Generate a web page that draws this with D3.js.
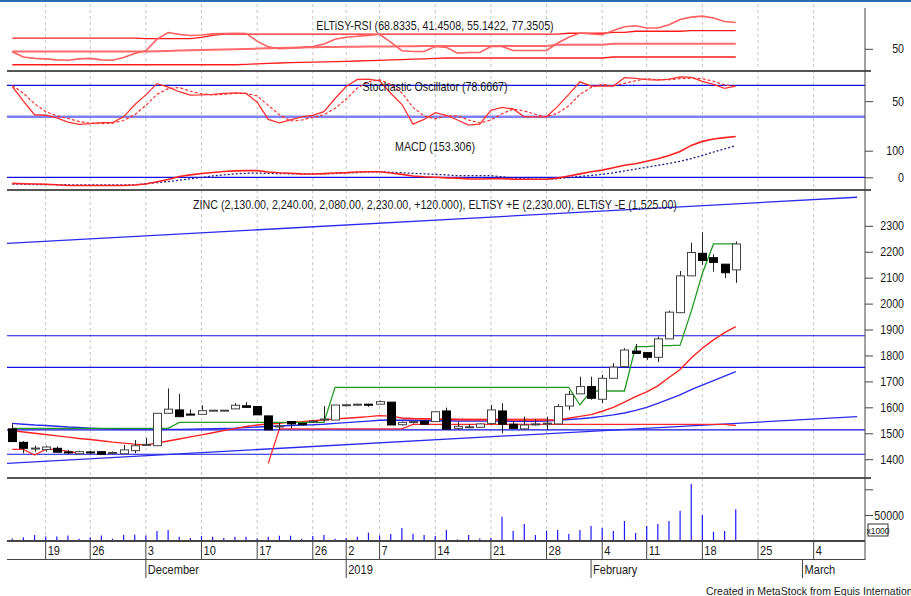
<!DOCTYPE html>
<html>
<head>
<meta charset="utf-8">
<script src="https://cdn.jsdelivr.net/npm/d3@7"></script>
<style>
  body { margin: 0; background: #fff; }
  text { font-family: "Liberation Sans", Arial, sans-serif; fill: #1a1a1a; }
</style>
</head>
<body>
<script>
// ---- data (one value per trading day, index 0 = Nov 14 2018) ----
let opens  = [1517,1465,1442,1437,1442,1428,1421,1428,1429,1426,1421,1433,1455,1452,1577,1590,1574,1573,1587,1587,
              1594,1606,1603,1567,1527,1545,1538,1547,1554,1551,1610,1612,1612,1612,1620,1533,1545,1547,1545,1586,
              1519,1525,1523,1538,1586,1535,1517,1536,1538,1536,1605,1652,1680,1631,1712,1757,1817,1811,1793,1864,
              1965,2107,2194,2177,2152,2130];
let highs  = [1539,1470,1452,1452,1449,1436,1433,1432,1431,1430,1455,1474,1482,1577,1673,1652,1592,1608,1590,1590,
              1616,1620,1603,1568,1540,1547,1540,1549,1605,1609,1614,1614,1614,1626,1620,1545,1547,1549,1586,1599,
              1545,1535,1538,1609,1616,1547,1564,1554,1564,1612,1663,1718,1718,1725,1770,1828,1844,1813,1873,1973,
              2126,2235,2275,2190,2152,2240];
let lows   = [1466,1423,1429,1429,1425,1420,1420,1420,1419,1420,1420,1423,1452,1452,1575,1564,1570,1573,1585,1585,
              1594,1598,1571,1513,1513,1519,1530,1540,1545,1551,1606,1606,1602,1612,1532,1530,1538,1535,1545,1516,
              1514,1520,1523,1533,1500,1517,1513,1530,1513,1535,1590,1652,1630,1616,1712,1757,1806,1783,1775,1864,
              1965,2107,2149,2123,2098,2080];
let closes = [1468,1442,1443,1447,1427,1425,1429,1427,1419,1426,1436,1452,1457,1577,1593,1564,1572,1587,1589,1589,
              1608,1600,1571,1513,1528,1536,1533,1547,1555,1609,1610,1612,1610,1622,1532,1542,1545,1535,1583,1516,
              1527,1525,1536,1590,1535,1519,1532,1536,1539,1603,1650,1680,1635,1712,1755,1821,1808,1793,1864,1967,
              2107,2197,2166,2159,2119,2230];
let volumes = [4500,6500,11000,8000,8000,10000,4000,6500,10000,4000,11000,11700,10300,18800,20800,7800,5200,9000,7800,5200,
               7800,7800,4500,7800,9700,9700,3900,9000,11000,3900,5200,7800,15600,10300,13000,24600,13600,11000,9000,20800,
               2500,11000,4500,5800,46700,18800,32400,11000,19500,20800,13000,20800,28500,24600,18800,38300,14900,28500,32400,38300,
               58400,110200,50000,17500,18800,61000];

// price overlays
let plusE  = [1519,1519,1519,1519,1519,1519,1519,1519,1519,1519,1519,1519,1519,1519,1519,1542,1542,1542,1542,1542,
              1542,1542,1542,1542,1542,1542,1542,1542,1542,1677,1677,1677,1677,1677,1677,1677,1677,1677,1677,1677,
              1677,1677,1677,1677,1677,1677,1677,1677,1677,1677,1677,1609,1663,1663,1663,1663,1834,1834,1838,1838,
              1840,1970,2116,2230,2230,2230];
let minusE = [1438,1438,1416,1438,1438,1430,1423,null,null,null,null,null,null,null,null,null,null,null,null,null,
              null,null,null,1384,1517,1517,1517,1517,1517,1517,1517,1517,1517,1517,1517,1517,1534,1534,1534,1534,
              1534,1534,1534,1534,1534,1534,1534,1534,1534,1534,1534,1534,1534,1534,1534,1534,1534,1534,1534,1534,
              1534,1534,1534,1534,1534,1530];
let stopBand = [null,null,null,null,null,null,null,null,null,null,null,null,null,null,null,null,null,null,null,null,
              null,null,null,null,null,null,null,null,null,null,null,null,null,null,null,1552,1552,1552,1552,1552,
              1552,1552,1552,1552,1552,1552,1552,1552,1552,null,null,null,null,null,null,null,null,null,null,null,
              null,null,null,null,null,null];
let maFast = [1510,1505,1500,1495,1490,1485,1480,1476,1471,1466,1462,1458,1455,1462,1470,1478,1486,1494,1502,1510,
              1518,1526,1532,1536,1538,1543,1545,1548,1551,1555,1558,1561,1564,1568,1566,1559,1557,1556,1555,1554,
              1553,1552,1552,1552,1552,1551,1551,1551,1551,1551,1558,1565,1572,1585,1600,1620,1641,1660,1683,1715,
              1746,1790,1828,1860,1888,1911];
let maSlow = [1538,1535,1532,1530,1527,1524,1522,1520,1518,1516,1515,1515,1515,1515,1515,1515,1516,1517,1518,1519,
              1520,1522,1524,1526,1528,1530,1532,1533,1535,1538,1541,1544,1547,1550,1551,1550,1549,1548,1548,1548,
              1547,1547,1547,1547,1547,1546,1546,1546,1547,1550,1553,1556,1560,1565,1571,1578,1588,1600,1615,1632,
              1648,1668,1686,1703,1720,1738];
let hLevels = [1876, 1754, 1513, 1419];
let trendLines = [[[-0.5, 2232], [75.9, 2410]], [[-0.5, 1384], [75.9, 1564]]];

// ELTiSY-RSI
let rsi    = [47,41.5,40,39.5,38.5,38,39.5,40,38.5,38,41,45,48,60,67,65,63.8,64.4,65.5,66,
              66.2,66,58,52,50,50.5,51.5,52.4,55,60,62,63,64,65.1,57,48,47.2,47.2,52.4,51.5,
              45.5,46.2,46.2,52.4,52.4,48.2,48.2,48.2,48.2,56,62,66.5,65.5,64.7,69,73,74,71.6,71.6,75,
              80.5,83,84,82,78.5,77.35];
let rsiHi  = [61.2,61.2,61.2,61.2,61.2,61.2,61.2,61.2,61.2,61.2,61.2,61.2,60.5,60.5,60.5,60.5,60.5,62,64,65.2,
              65.2,65.2,65.2,65.2,65.2,65.2,65.2,65.2,65.2,65.2,65.2,65.2,65.2,65.2,65.2,65.2,65.2,65.2,65.2,65.2,
              65.2,65.2,65.2,65.2,65.2,65.2,65.2,65.2,65.2,65.2,66.2,66.2,66.2,66.2,67.2,67.2,68.3,68.3,68.3,68.3,
              68.3,68.83,68.83,68.83,68.83,68.83];
let rsiMid = [47.2,47.2,47.2,47.2,47.2,47.2,47.2,47.2,47.2,47.2,47.2,47.2,47.2,47.5,47.8,48.1,48.4,48.7,49,49.3,
              49.6,49.9,50.2,50.5,50.8,51.1,51.4,51.6,51.8,52,52.1,52.2,52.3,52.4,52.5,52.6,52.7,52.8,53,53,
              53,53,53,53,53,53,53,53,53,54.3,54.3,54.3,54.3,54.3,55.14,55.14,55.14,55.14,55.14,55.14,
              55.14,55.14,55.14,55.14,55.14,55.14];
let rsiLo  = [33.4,33.4,33.4,33.4,33.4,33.4,33.4,33.4,33.4,33.4,33.4,33.4,33.4,33.4,33.4,33.4,33.4,33.4,33.4,33.4,
              33.4,33.8,34.3,34.8,35.2,35.5,35.8,36.1,36.4,36.7,37,37.3,37.6,38,38.4,38.8,39.2,39.6,40,40.4,
              40.4,40.4,40.4,40.4,40.4,40.4,40.4,40.4,40.4,40.4,40.4,40.4,40.4,40.4,41.45,41.45,41.45,41.45,41.45,41.45,
              41.45,41.45,41.45,41.45,41.45,41.45];

// Stochastic oscillator
let stochK = [78,50,24,23,18,10,5.5,7,9,9,20,43,62,83.5,77,68,61.5,62,63,65,
              66,64.7,48,15,8.5,14,20,23,30,55,78,91.4,92,89,65,44,6,15,28,23,
              14,4,6,32.5,38,35,20,20,20,40,63,87,79,78.7,78.7,95,93.4,91,90.2,92,
              96.5,95.3,88,82,74.3,78.67];
let stochD = [80,65,45,30,22,17,11,8,7,8,13,24,42,63,74,76,69,64,62,63,
              65,65,60,42,24,12,14,19,24,36,54,75,87,91,82,66,38,22,16,22,
              22,14,8,14,26,35,31,25,20,27,41,63,76,82,79,84,89,93,91,91,
              93,94,93,88,81,78];
let stochLevels = [80, 20];

// MACD
let macd   = [-23,-24,-25,-26,-28,-31,-31,-31,-31,-31,-31,-29,-25,-17,-8,3,9,14,18,22,
              24,25,25,20,17,15,13,12.4,14,16,17.5,20,21,21,16,11,5,2,0,-2,
              -3,-6,-6.4,-5.5,-5,-7,-7.5,-7.5,-7.5,-3,5,13,21,27,36,45,51,60,70,82,
              97,120,135,144,149,153.3];
let signal = [-26,-26,-27,-27,-28,-28,-29,-29,-29,-29,-29,-28,-24,-20,-16,-11,-6,0,5,9,
              13,15,16,15,14,13,12.4,12.4,13,14,16,18,20,21,19,17,15,13,11,9,
              6,6,6,6,2,-3,-6,-7,-7.5,-5,-1,3,7,11,17,24,31,38,45,52,
              60,70,82,95,107,119];

// axis labels
let tickIdx    = [3,7,12,17,22,27,30,33,38,43,48,53,57,62,67,72];
let tickLabels = ["19","26","3","10","17","26","2","7","14","21","28","4","11","18","25","4"];
let monthIdx    = [12,30,52,71];
let monthLabels = ["December","2019","February","March"];

let rsiTitle   = "ELTiSY-RSI (68.8335, 41.4508, 55.1422, 77.3505)";
let stochTitle = "Stochastic Oscillator (78.6667)";
let macdTitle  = "MACD (153.306)";
let priceTitle = "ZINC (2,130.00, 2,240.00, 2,080.00, 2,230.00, +120.000), ELTiSY +E (2,230.00), ELTiSY -E (1,525.00)";

// ---- layout ----
let width = 911, height = 596;
let left = 7, right = 865;

let svg = d3.select('body').append('svg')
    .attr('width', width)
    .attr('height', height);

let x = d3.scaleLinear().domain([0, 1]).range([12.3, 23.43]);
let rsiY   = d3.scaleLinear().domain([30, 80]).range([68, 20]);
let stochY = d3.scaleLinear().domain([0, 100]).range([127.3, 75]);
let macdY  = d3.scaleLinear().domain([0, 100]).range([177.3, 150.7]);
let priceY = d3.scaleLinear().domain([1400, 2300]).range([459.2, 225.8]);
let volY   = d3.scaleLinear().domain([0, 50000]).range([540.7, 515]);

let defs = svg.append('defs');
function clip(id, y0, y1) {
  defs.append('clipPath').attr('id', id).append('rect')
    .attr('x', left).attr('y', y0).attr('width', right - left).attr('height', y1 - y0);
  return 'url(#' + id + ')';
}

// top border
svg.append('rect').attr('x', 0).attr('y', 0).attr('width', width).attr('height', 2).attr('fill', '#2b6db3');

// dashed week gridlines
svg.append('g').selectAll('line')
  .data(tickIdx).enter().append('line')
    .attr('x1', d => x(d)).attr('x2', d => x(d))
    .attr('y1', 4).attr('y2', 540)
    .attr('stroke', '#c4c4c4').attr('stroke-dasharray', '3,3');

function drawLine(g, values, yScale, color, w, dash) {
  let line = d3.line()
    .defined(d => d != null)
    .x((d, i) => x(i))
    .y(d => yScale(d));
  let p = g.append('path')
    .attr('d', line(values))
    .attr('fill', 'none')
    .attr('stroke', color)
    .attr('stroke-width', w);
  if (dash) p.attr('stroke-dasharray', dash);
  return p;
}

/******** RSI panel ********/
let rsiG = svg.append('g').attr('clip-path', clip('c-rsi', 3, 70));
drawLine(rsiG, rsiLo, rsiY, '#ff1a1a', 1.3);
drawLine(rsiG, rsiMid, rsiY, '#ff6a6a', 2);
drawLine(rsiG, rsiHi, rsiY, '#ff1a1a', 1.3);
drawLine(rsiG, rsi, rsiY, '#ff6060', 1.6);

/******** Stochastic + MACD panel ********/
let oscG = svg.append('g').attr('clip-path', clip('c-osc', 72, 189));
oscG.selectAll('.slev').data(stochLevels).enter().append('line')
    .attr('x1', left).attr('x2', right)
    .attr('y1', d => stochY(d)).attr('y2', d => stochY(d))
    .attr('stroke', (d, i) => i == 0 ? '#1010e0' : '#7f7ff5')
    .attr('stroke-width', (d, i) => i == 0 ? 1.2 : 2.5);
drawLine(oscG, stochD, stochY, '#ff3030', 1.2, '3,2');
drawLine(oscG, stochK, stochY, '#ff3030', 1.3);

oscG.append('line')
    .attr('x1', left).attr('x2', right)
    .attr('y1', macdY(0)).attr('y2', macdY(0))
    .attr('stroke', '#1010e0').attr('stroke-width', 1.2);
drawLine(oscG, signal, macdY, '#20208a', 1.3, '2,2');
drawLine(oscG, macd, macdY, '#ff2020', 1.6);

/******** price panel ********/
let priceG = svg.append('g').attr('clip-path', clip('c-price', 191, 477));
priceG.selectAll('.hl').data(hLevels).enter().append('line')
    .attr('x1', left).attr('x2', right)
    .attr('y1', d => priceY(d)).attr('y2', d => priceY(d))
    .attr('stroke', '#1010e0').attr('stroke-width', 1.2);
priceG.selectAll('.tl').data(trendLines).enter().append('line')
    .attr('x1', d => x(d[0][0])).attr('y1', d => priceY(d[0][1]))
    .attr('x2', d => x(d[1][0])).attr('y2', d => priceY(d[1][1]))
    .attr('stroke', '#2a2af0').attr('stroke-width', 1.3);

drawLine(priceG, stopBand, priceY, '#ff8c8c', 3);
drawLine(priceG, minusE, priceY, '#ff2a2a', 1.3);
drawLine(priceG, maSlow, priceY, '#2a2af5', 1.4);
drawLine(priceG, maFast, priceY, '#ff2020', 1.4);
drawLine(priceG, plusE, priceY, '#249a24', 1.3);

// candles
let idx = d3.range(opens.length);
priceG.selectAll('.wick').data(idx).enter().append('line')
    .attr('x1', i => Math.round(x(i)) + 0.5).attr('x2', i => Math.round(x(i)) + 0.5)
    .attr('y1', i => priceY(highs[i])).attr('y2', i => priceY(lows[i]))
    .attr('stroke', '#222').attr('stroke-width', 1);
priceG.selectAll('.body').data(idx).enter().append('rect')
    .attr('x', i => Math.round(x(i)) - 3.5)
    .attr('y', i => priceY(Math.max(opens[i], closes[i])))
    .attr('width', 8)
    .attr('height', i => Math.max(1, Math.abs(priceY(opens[i]) - priceY(closes[i]))))
    .attr('fill', i => closes[i] >= opens[i] ? '#fff' : '#000')
    .attr('stroke', i => closes[i] >= opens[i] ? '#444' : '#000')
    .attr('stroke-width', 1);

/******** volume panel ********/
let volG = svg.append('g').attr('clip-path', clip('c-vol', 479, 541));
volG.selectAll('line').data(volumes).enter().append('line')
    .attr('x1', (d, i) => x(i)).attr('x2', (d, i) => x(i))
    .attr('y1', volY(0)).attr('y2', d => volY(d))
    .attr('stroke', '#1a1aff').attr('stroke-width', 1.2);

/******** separators / frame ********/
[71, 190, 478].forEach(function(y) {
  svg.append('line').attr('x1', left).attr('x2', right + 6).attr('y1', y).attr('y2', y)
    .attr('stroke', '#555').attr('stroke-width', 2);
});
svg.append('line').attr('x1', left).attr('x2', right).attr('y1', 541).attr('y2', 541)
  .attr('stroke', '#444').attr('stroke-width', 2);
svg.append('line').attr('x1', left).attr('x2', right).attr('y1', 559.5).attr('y2', 559.5)
  .attr('stroke', '#444').attr('stroke-width', 1);
svg.append('line').attr('x1', right).attr('x2', right).attr('y1', 8).attr('y2', 560)
  .attr('stroke', '#444').attr('stroke-width', 1);

/******** right axes ********/
function rightAxis(scale, minor, major, labels, y0, y1) {
  let g = svg.append('g').attr('transform', 'translate(' + right + ',0)');
  g.call(d3.axisRight(scale).tickValues(minor.filter(v => scale(v) > y0 && scale(v) < y1)).tickSize(4).tickFormat(''));
  g.call(d3.axisRight(scale).tickValues(major).tickSize(8).tickFormat(''));
  g.selectAll('.domain').remove();
  g.selectAll('line').attr('stroke', '#444');
  svg.append('g').selectAll('text').data(labels).enter().append('text')
    .attr('class', 'narrow')
    .attr('x', 904).attr('y', d => scale(d)).attr('dy', '0.36em')
    .attr('text-anchor', 'end').attr('font-size', '13px')
    .text(d => d);
}
rightAxis(rsiY, [30, 40, 60, 70, 80, 90], [50], [50], 4, 70);
rightAxis(stochY, [0, 25, 75, 100], [50], [50], 72, 130);
rightAxis(macdY, [50, 150], [0, 100], [100, 0], 130, 189);
rightAxis(priceY, d3.range(1350, 2450, 50), d3.range(1400, 2400, 100), d3.range(1400, 2400, 100), 191, 477);
rightAxis(volY, d3.range(10000, 120000, 10000), [50000, 100000], [50000], 479, 540);

// x1000 box
svg.append('rect').attr('x', 868).attr('y', 524).attr('width', 20).attr('height', 12)
  .attr('fill', '#fff').attr('stroke', '#333');
svg.append('text').attr('x', 878).attr('y', 533.5).attr('text-anchor', 'middle')
  .attr('font-size', '8.5px').text('x1000');

/******** titles ********/
[[rsiTitle, 30], [stochTitle, 91], [macdTitle, 151], [priceTitle, 209]].forEach(function(t) {
  svg.append('text').attr('class', 'narrow')
    .attr('x', 435).attr('y', t[1]).attr('text-anchor', 'middle')
    .attr('font-size', '13px').text(t[0]);
});

/******** date axis ********/
let dateG = svg.append('g');
dateG.selectAll('line').data(tickIdx).enter().append('line')
  .attr('x1', d => x(d)).attr('x2', d => x(d)).attr('y1', 541).attr('y2', 559)
  .attr('stroke', '#444');
dateG.selectAll('text').data(tickIdx).enter().append('text')
  .attr('class', 'narrow')
  .attr('x', d => x(d) + 2).attr('y', 554.5)
  .attr('font-size', '13.5px')
  .text((d, i) => tickLabels[i]);

let monthG = svg.append('g');
monthG.selectAll('line').data(monthIdx).enter().append('line')
  .attr('x1', d => x(d)).attr('x2', d => x(d))
  .attr('y1', 560).attr('y2', 578)
  .attr('stroke', '#444');
monthG.selectAll('text').data(monthIdx).enter().append('text')
  .attr('class', 'narrow')
  .attr('x', d => x(d) + 2).attr('y', 574)
  .attr('font-size', '13.5px')
  .text((d, i) => monthLabels[i]);

// MetaStock uses a narrow face: squeeze the sans text horizontally
svg.selectAll('text.narrow').each(function() {
  let w = this.getComputedTextLength();
  d3.select(this).attr('textLength', w * 0.82).attr('lengthAdjust', 'spacingAndGlyphs');
});

svg.append('text').attr('x', 706).attr('y', 595)
  .attr('font-size', '10.5px')
  .text('Created in MetaStock from Equis International');
</script>
</body>
</html>
